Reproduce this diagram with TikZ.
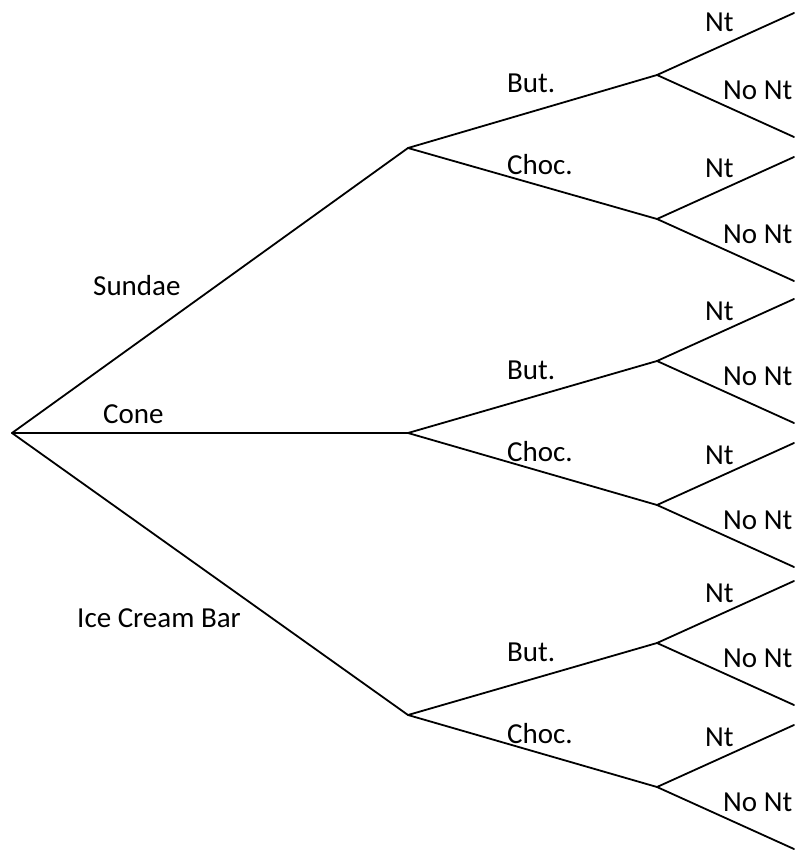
\documentclass[tikz,border=0pt]{standalone}
\usepackage{fontspec}
\setmainfont{Carlito}
\usetikzlibrary{arrows}
\tikzset{>=latex}
\begin{document}
\begin{tikzpicture}[x=1pt,y=-1pt]
        % coordinates in pixels, y grows downwards
        \tikzstyle{every edge}=[black, line width=1.8pt, line cap=round, draw]
        \tikzstyle{lbl}=[anchor=base west, inner sep=0pt, font=\fontsize{29}{34}\selectfont]
        \useasboundingbox (0,0) rectangle (794,850);
        \coordinate (R) at (12,433);
        % first choice
        \coordinate (S) at (408,148);
        \coordinate (C) at (408,433);
        \coordinate (B) at (408,715);
        \draw (R) edge (S);
        \draw (R) edge (C);
        \draw (R) edge (B);
        \node[lbl] (Slbl) at (93,295) {Sundae};
        \node[lbl] (Clbl) at (103,423) {Cone};
        \node[lbl] (Blbl) at (77,627) {Ice Cream Bar};
        % topping
        \coordinate (SB) at (657,75);
        \coordinate (SC) at (657,219);
        \coordinate (CB) at (657,361);
        \coordinate (CC) at (657,505);
        \coordinate (BB) at (657,643);
        \coordinate (BC) at (657,787);
        \draw (S) edge (SB);
        \draw (S) edge (SC);
        \draw (C) edge (CB);
        \draw (C) edge (CC);
        \draw (B) edge (BB);
        \draw (B) edge (BC);
        \node[lbl] (SBlbl) at (507,93) {But.};
        \node[lbl] (SClbl) at (507,175) {Choc.};
        \node[lbl] (CBlbl) at (507,379) {But.};
        \node[lbl] (CClbl) at (507,461) {Choc.};
        \node[lbl] (BBlbl) at (507,661) {But.};
        \node[lbl] (BClbl) at (507,743) {Choc.};
        % nuts
        \coordinate (SBn) at (794,13);
        \coordinate (SBx) at (794,137);
        \coordinate (SCn) at (794,157);
        \coordinate (SCx) at (794,281);
        \coordinate (CBn) at (794,299);
        \coordinate (CBx) at (794,423);
        \coordinate (CCn) at (794,443);
        \coordinate (CCx) at (794,567);
        \coordinate (BBn) at (794,581);
        \coordinate (BBx) at (794,705);
        \coordinate (BCn) at (794,725);
        \coordinate (BCx) at (794,849);
        \draw (SB) edge (SBn);
        \draw (SB) edge (SBx);
        \draw (SC) edge (SCn);
        \draw (SC) edge (SCx);
        \draw (CB) edge (CBn);
        \draw (CB) edge (CBx);
        \draw (CC) edge (CCn);
        \draw (CC) edge (CCx);
        \draw (BB) edge (BBn);
        \draw (BB) edge (BBx);
        \draw (BC) edge (BCn);
        \draw (BC) edge (BCx);
        \node[lbl] (SBnl) at (705,32) {Nt};
        \node[lbl] (SBxl) at (723,100) {No Nt};
        \node[lbl] (SCnl) at (705,178) {Nt};
        \node[lbl] (SCxl) at (723,243) {No Nt};
        \node[lbl] (CBnl) at (705,320) {Nt};
        \node[lbl] (CBxl) at (723,385) {No Nt};
        \node[lbl] (CCnl) at (705,464) {Nt};
        \node[lbl] (CCxl) at (723,529) {No Nt};
        \node[lbl] (BBnl) at (705,602) {Nt};
        \node[lbl] (BBxl) at (723,667) {No Nt};
        \node[lbl] (BCnl) at (705,746) {Nt};
        \node[lbl] (BCxl) at (723,811) {No Nt};
\end{tikzpicture}
\end{document}
